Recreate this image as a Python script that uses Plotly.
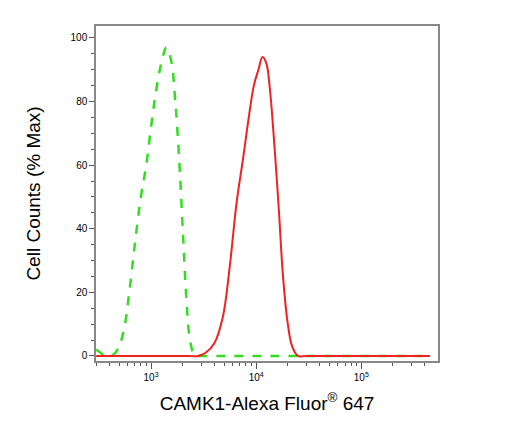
import plotly.graph_objects as go

# isotype control (green dashed)
ctrl_x = [300, 330, 370, 420, 480, 550, 620, 700, 800, 900, 1000, 1100, 1250, 1400, 1550, 1700, 1850, 2000, 2150, 2300, 2450, 2600, 3000, 5000, 10000, 20000, 50000, 450000]
ctrl_y = [2, 1, 0, 0, 2, 8, 20, 35, 50, 60, 72, 82, 92, 97, 93, 80, 62, 40, 20, 7, 2, 0, 0, 0, 0, 0, 0, 0]

# CAMK1 (red solid)
samp_x = [300, 1000, 2000, 2800, 3300, 4000, 4800, 5600, 6500, 7500, 8500, 9500, 10500, 11500, 12500, 13500, 15000, 16500, 18000, 20000, 22000, 25000, 30000, 100000, 450000]
samp_y = [0, 0, 0, 0, 1, 4, 12, 28, 48, 62, 75, 85, 90, 94, 92, 84, 65, 45, 25, 10, 3, 0, 0, 0, 0]

fig = go.Figure()
fig.add_trace(go.Scatter(x=ctrl_x, y=ctrl_y, mode="lines", line=dict(color="#33dd22", width=2.5, dash="dash", shape="spline")))
fig.add_trace(go.Scatter(x=samp_x, y=samp_y, mode="lines", line=dict(color="#ee2222", width=2, shape="spline")))

fig.update_layout(
    width=514, height=425, showlegend=False,
    plot_bgcolor="white", paper_bgcolor="white",
    margin=dict(l=88, r=84, t=18, b=72),
    font=dict(family="Liberation Sans", color="black"),
)
fig.update_xaxes(type="log", range=[2.476, 5.73], showgrid=False, zeroline=False, automargin=False,
                 showline=True, linecolor="#888", linewidth=1.5, mirror=True,
                 ticks="outside", ticklen=6, tickcolor="#555", tickvals=[1000, 10000, 100000],
                 ticktext=["10<sup>3</sup>", "10<sup>4</sup>", "10<sup>5</sup>"], tickfont=dict(size=10),
                 minor=dict(ticks="outside", ticklen=3, tickcolor="#555",
                            tickvals=[300, 400, 500, 600, 700, 800, 900, 2000, 3000, 4000, 5000, 6000, 7000, 8000, 9000,
                                      20000, 30000, 40000, 50000, 60000, 70000, 80000, 90000, 200000, 300000, 400000]),
                 title=dict(text="CAMK1-Alexa Fluor<sup>®</sup> 647", font=dict(size=19), standoff=15))
fig.update_yaxes(range=[-1.6, 103.75], showgrid=False, zeroline=False, automargin=False,
                 showline=True, linecolor="#888", linewidth=1.5, mirror=True,
                 ticks="outside", ticklen=5, tickcolor="#555", dtick=20, tickfont=dict(size=10),
                 minor=dict(ticks="outside", ticklen=3, tickcolor="#555", dtick=5),
                 title=dict(text="Cell Counts (% Max)", font=dict(size=19), standoff=25))
fig.write_html("out.html")
